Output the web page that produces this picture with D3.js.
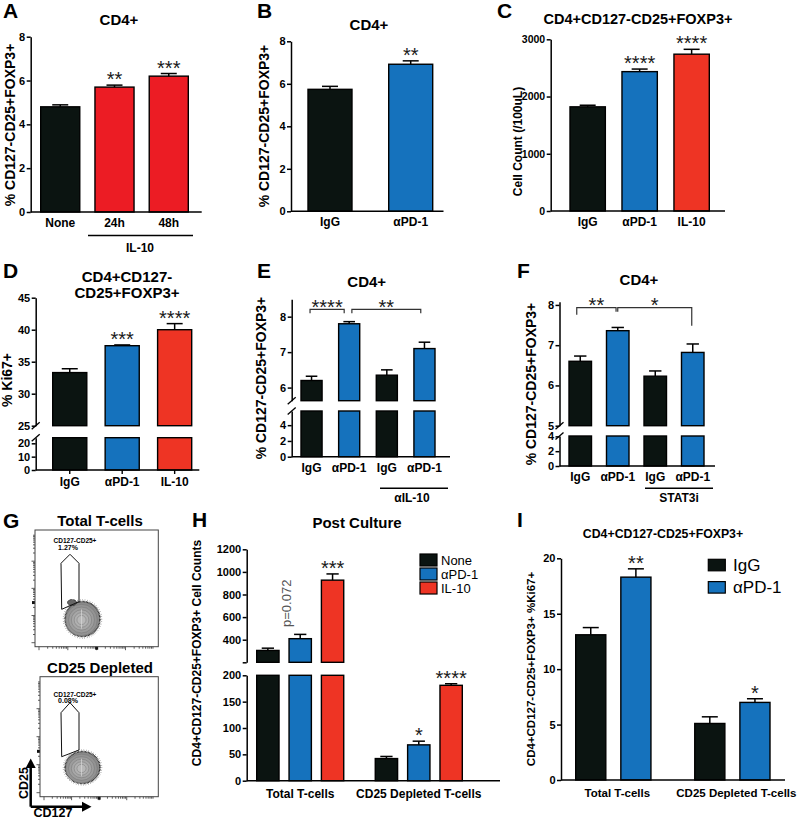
<!DOCTYPE html>
<html><head><meta charset="utf-8">
<script src="https://cdn.jsdelivr.net/npm/d3@7"></script>
<style>body{margin:0;background:#fff;overflow:hidden}svg{display:block}</style>
</head><body><script>
// ---------------- DATA ----------------
const aCats = ["None", "24h", "48h"];
const aVals = [4.8, 5.7, 6.2];
const aErrs = [0.09, 0.09, 0.12];
const aStars = ["", "**", "***"];
const aTicks = [0, 2, 4, 6, 8];

const bCats = ["IgG", "αPD-1"];
const bVals = [5.74, 6.92];
const bErrs = [0.14, 0.16];
const bStars = ["", "**"];
const bTicks = [0, 2, 4, 6, 8];

const cCats = ["IgG", "αPD-1", "IL-10"];
const cVals = [1820, 2435, 2740];
const cErrs = [28, 45, 85];
const cStars = ["", "****", "****"];
const cTicks = [0, 1000, 2000, 3000];

const dCats = ["IgG", "αPD-1", "IL-10"];
const dVals = [33.3, 37.5, 40.0];
const dErrs = [0.6, 0.12, 0.95];
const dStars = ["", "***", "****"];
const dTicksLow = [0, 10, 20];
const dTicksHigh = [25, 30, 35, 40, 45];

const eCats = ["IgG", "αPD-1", "IgG", "αPD-1"];
const eVals = [6.2, 7.8, 6.35, 7.1];
const eErrs = [0.12, 0.06, 0.15, 0.18];
const eTicksLow = [0, 2, 4];
const eTicksHigh = [6, 7, 8];
const eBrackets = [{ from: 0, to: 1, label: "****" }, { from: 1, to: 3, label: "**" }];

const fCats = ["IgG", "αPD-1", "IgG", "αPD-1"];
const fVals = [6.6, 7.36, 6.23, 6.82];
const fErrs = [0.13, 0.08, 0.13, 0.21];
const fTicksLow = [0, 2, 4];
const fTicksHigh = [5, 6, 7, 8];
const fBrackets = [{ from: 0, to: 1, label: "**" }, { from: 1, to: 3, label: "*" }];

const gPlots = [
  { title: "Total T-cells", gate: "CD127-CD25+", pct: "1.27%" },
  { title: "CD25 Depleted", gate: "CD127-CD25+", pct: "0.08%" }
];

const hGroups = ["Total T-cells", "CD25 Depleted T-cells"];
const hSeries = ["None", "αPD-1", "IL-10"];
const hNone = [305, 42];
const hPD1 = [409, 68];
const hIL10 = [927, 181];
const hNoneErr = [20, 4];
const hPD1Err = [38, 7];
const hIL10Err = [55, 3];
const hStars = [["", "", "***"], ["", "*", "****"]];
const hTicksLow = [0, 50, 100, 150, 200];
const hTicksHigh = [200, 400, 600, 800, 1000, 1200];

const iGroups = ["Total T-cells", "CD25 Depleted T-cells"];
const iSeries = ["IgG", "αPD-1"];
const iIgG = [13.1, 5.1];
const iPD1 = [18.3, 7.0];
const iIgGErr = [0.65, 0.6];
const iPD1Err = [0.75, 0.33];
const iStars = [["", "**"], ["", "*"]];
const iTicks = [0, 5, 10, 15, 20];

// ---------------- STYLE ----------------
const FONT = '"Liberation Sans", Arial, Helvetica, sans-serif';
const BLACK = "#0b1411", BLUE = "#1572bd", RED_A = "#ec1c24", RED = "#ee3424";

const svg = d3.select("body").append("svg")
  .attr("width", 800).attr("height", 820)
  .style("font-family", FONT);

function txt(x, y, s, o = {}) {
  const t = svg.append("text").attr("x", x).attr("y", y).text(s)
    .attr("font-size", o.size || 12)
    .attr("font-weight", o.weight || "bold")
    .attr("text-anchor", o.anchor || "middle")
    .attr("fill", o.fill || "#000");
  if (o.rotate) t.attr("transform", `rotate(-90,${x},${y})`);
  return t;
}
function line(x1, y1, x2, y2, w = 1.5, c = "#000") {
  return svg.append("line").attr("x1", x1).attr("y1", y1).attr("x2", x2).attr("y2", y2)
    .attr("stroke", c).attr("stroke-width", w);
}

// Generic bar panel (supports broken y axis)
function panel(cfg) {
  const g = svg.append("g");
  const segs = cfg.segs.map(s => Object.assign({}, s, { scale: d3.scaleLinear().domain(s.domain).range(s.range) }));
  const baseY = segs[0].range[0];
  cfg.bars.forEach(b => {
    segs.forEach(s => {
      const lo = s.domain[0], hi = s.domain[1];
      if (b.v <= lo) return;
      const yTop = s.scale(Math.min(b.v, hi)), yBot = s.scale(lo);
      g.append("rect").attr("x", b.x).attr("y", yTop).attr("width", b.w).attr("height", yBot - yTop)
        .attr("fill", b.color).attr("stroke", "#000").attr("stroke-width", 1.4);
    });
    const s = segs.find(s => b.v > s.domain[0] && b.v <= s.domain[1]) || segs[segs.length - 1];
    const yv = s.scale(b.v), ye = s.scale(b.v + b.e);
    const cx = b.x + b.w / 2, cw = Math.min(16, b.w * 0.55);
    g.append("line").attr("x1", cx).attr("x2", cx).attr("y1", yv).attr("y2", ye).attr("stroke", "#000").attr("stroke-width", 1.5);
    g.append("line").attr("x1", cx - cw / 2).attr("x2", cx + cw / 2).attr("y1", ye).attr("y2", ye).attr("stroke", "#000").attr("stroke-width", 1.5);
    if (b.star) txt(cx, ye + 1, b.star, { size: 20, weight: "normal", fill: "#1a1a1a" });
    if (cfg.xTicks) g.append("line").attr("x1", cx).attr("x2", cx).attr("y1", baseY).attr("y2", baseY + 4).attr("stroke", "#000").attr("stroke-width", 1.4);
    if (b.label) txt(cx, baseY + (cfg.labelDy || 14.5), b.label, { size: cfg.labelSize || 12 });
  });
  segs.forEach(s => {
    const ax = d3.axisLeft(s.scale).tickValues(s.ticks).tickSize(4).tickSizeOuter(0).tickPadding(1.5)
      .tickFormat(d => (s.hide || []).includes(d) ? "" : String(d));
    const ag = g.append("g").attr("transform", `translate(${cfg.axisX},0)`).call(ax)
      .attr("font-family", FONT).attr("font-size", cfg.tickSize || 11).attr("font-weight", "bold");
    ag.select(".domain").attr("stroke", "#000").attr("stroke-width", 1.5);
    ag.selectAll(".tick line").attr("stroke", "#000").attr("stroke-width", 1.5);
    ag.selectAll(".tick text").attr("fill", "#000");
  });
  if (cfg.breakMarks && segs.length > 1) {
    [segs[1].range[0], segs[0].range[1]].forEach(y => {
      g.append("line").attr("x1", cfg.axisX - 4).attr("y1", y + 3.5).attr("x2", cfg.axisX + 4).attr("y2", y - 3.5)
        .attr("stroke", "#000").attr("stroke-width", 1.3);
    });
  }
  g.append("line").attr("x1", cfg.axisX).attr("x2", cfg.axisEnd).attr("y1", baseY).attr("y2", baseY)
    .attr("stroke", "#000").attr("stroke-width", 1.5);
  return segs;
}

function simpleBars(cats, vals, errs, colors, stars, band) {
  return vals.map((v, i) => ({ x: band(i), w: band.bandwidth(), v, e: errs[i], color: colors[i], star: stars ? stars[i] : "", label: cats[i] }));
}

function brackets(list, band, y, geo) {
  list.forEach((br, k) => {
    const c1 = band(br.from) + band.bandwidth() / 2, c2 = band(br.to) + band.bandwidth() / 2;
    const x1 = c1 + geo[k].d1, x2 = c2 + geo[k].d2;
    svg.append("path").attr("d", `M${x1},${y + geo[k].l1}V${y}H${x2}V${y + geo[k].l2}`)
      .attr("fill", "none").attr("stroke", "#333").attr("stroke-width", 1.2);
    txt((x1 + x2) / 2, y + 4.6, br.label, { size: 20, weight: "normal", fill: "#1a1a1a" });
  });
}

// ---------------- PANEL A ----------------
{
  const band = d3.scaleBand().domain(d3.range(aCats.length)).range([40.7, 188.3]).paddingInner(0.28);
  panel({
    segs: [{ domain: [0, 8], range: [212, 36.7], ticks: aTicks }],
    bars: simpleBars(aCats, aVals, aErrs, [BLACK, RED_A, RED_A], aStars, band),
    axisX: 30.7, axisEnd: 201.7, xTicks: false
  });
  txt(119, 24.5, "CD4+", { size: 15 });
  txt(14.5, 125, "% CD127-CD25+FOXP3+", { size: 14, rotate: true });
  line(88, 235.5, 193, 235.5, 1.4);
  txt(140, 252, "IL-10", { size: 12 });
  txt(3, 18, "A", { size: 21, anchor: "start" });
}
// ---------------- PANEL B ----------------
{
  const band = d3.scaleBand().domain(d3.range(bCats.length)).range([308, 432.7]).paddingInner(0.455);
  panel({
    segs: [{ domain: [0, 8], range: [211.3, 41.3], ticks: bTicks }],
    bars: simpleBars(bCats, bVals, bErrs, [BLACK, BLUE], bStars, band),
    axisX: 291, axisEnd: 443.5
  });
  txt(369, 29.5, "CD4+", { size: 15 });
  txt(269, 126, "% CD127-CD25+FOXP3+", { size: 14, rotate: true });
  txt(257, 18, "B", { size: 21, anchor: "start" });
}
// ---------------- PANEL C ----------------
{
  const band = d3.scaleBand().domain(d3.range(cCats.length)).range([570, 709.3]).paddingInner(0.32);
  panel({
    segs: [{ domain: [0, 3000], range: [211, 39.3], ticks: cTicks }],
    bars: simpleBars(cCats, cVals, cErrs, [BLACK, BLUE, RED], cStars, band),
    axisX: 550.7, axisEnd: 725, tickSize: 10.5
  });
  txt(638, 23.5, "CD4+CD127-CD25+FOXP3+", { size: 14.5 });
  txt(521.5, 141.5, "Cell Count (/100uL)", { size: 12, rotate: true });
  txt(497, 18, "C", { size: 21, anchor: "start" });
}
// ---------------- PANEL D ----------------
{
  const band = d3.scaleBand().domain(d3.range(dCats.length)).range([52.7, 191.7]).paddingInner(0.35);
  panel({
    segs: [
      { domain: [0, 24.2], range: [470, 437.7], ticks: dTicksLow },
      { domain: [25, 45], range: [425.7, 297.7], ticks: dTicksHigh }
    ],
    bars: simpleBars(dCats, dVals, dErrs, [BLACK, BLUE, RED], dStars, band),
    axisX: 35.7, axisEnd: 199.3, breakMarks: true, xTicks: true, labelDy: 15.5
  });
  txt(127, 281.5, "CD4+CD127-", { size: 15 });
  txt(127, 298, "CD25+FOXP3+", { size: 15 });
  txt(11.7, 380, "% Ki67+", { size: 14, rotate: true });
  txt(3, 278, "D", { size: 21, anchor: "start" });
}
// ---------------- PANEL E ----------------
{
  const band = d3.scaleBand().domain(d3.range(eCats.length)).range([301, 435]).paddingInner(0.44);
  panel({
    segs: [
      { domain: [0, 5.8], range: [456.7, 411], ticks: eTicksLow },
      { domain: [5.63, 8.49], range: [400.7, 299.3], ticks: eTicksHigh }
    ],
    bars: simpleBars(eCats, eVals, eErrs, [BLACK, BLUE, BLACK, BLUE], null, band),
    axisX: 291.7, axisEnd: 450, breakMarks: true, labelDy: 15
  });
  brackets(eBrackets, band, 309.3, [{ d1: -1.5, d2: -5, l1: 4, l2: 4 }, { d1: 2.7, d2: -3.7, l1: 4, l2: 4 }]);
  txt(366.7, 287, "CD4+", { size: 15 });
  txt(266, 378, "% CD127-CD25+FOXP3+", { size: 14, rotate: true });
  line(380, 488.3, 448, 488.3, 1.4);
  txt(412, 502, "αIL-10", { size: 12 });
  txt(257, 278, "E", { size: 21, anchor: "start" });
}
// ---------------- PANEL F ----------------
{
  const band = d3.scaleBand().domain(d3.range(fCats.length)).range([569, 704]).paddingInner(0.4);
  panel({
    segs: [
      { domain: [0, 4.05], range: [466, 436], ticks: fTicksLow },
      { domain: [5, 8.08], range: [425.7, 301.7], ticks: fTicksHigh }
    ],
    bars: simpleBars(fCats, fVals, fErrs, [BLACK, BLUE, BLACK, BLUE], null, band),
    axisX: 559.5, axisEnd: 715, breakMarks: true, labelDy: 15
  });
  brackets(fBrackets, band, 307.7, [{ d1: -3.5, d2: -1.7, l1: 7, l2: 4 }, { d1: 0, d2: -1, l1: 4, l2: 18 }]);
  txt(639, 285, "CD4+", { size: 15 });
  txt(536, 384, "% CD127-CD25+FOXP3+", { size: 14, rotate: true });
  line(645, 488.3, 713, 488.3, 1.4);
  txt(679, 502, "STAT3i", { size: 12 });
  txt(517, 278, "F", { size: 21, anchor: "start" });
}
// ---------------- PANEL G (flow plots) ----------------
{
  const boxes = [
    { x0: 35, y0: 530, x1: 158.3, y1: 646.7, gate: [[61, 563.3], [70, 554.3], [79, 563.3], [79, 601.7], [61.7, 609.3]], blob: [82.5, 619, 17.5, 17.5], clump: true, t1: 543.3, t2: 550, title: 526 },
    { x0: 40, y0: 676.7, x1: 158.3, y1: 796.7, gate: [[61, 712.7], [70, 702.7], [79, 712.7], [79, 750], [61.7, 756.7]], blob: [82.5, 767.5, 17.5, 16], clump: false, t1: 696.7, t2: 702.7, title: 673 }
  ];
  const contourShades = ["#939393", "#9d9d9d", "#a7a7a7", "#b0b0b0", "#b8b8b8"];
  gPlots.forEach((p, i) => {
    const b = boxes[i];
    txt(100, b.title, p.title, { size: 15 });
    const ly = d3.scaleLog().domain([10, 1e5]).range([b.y1 - 4, b.y0 + 4]);
    const lx = d3.scaleLog().domain([10, 1e5]).range([b.x0 + 4, b.x1 - 4]);
    for (let k = 1; k <= 4; k++) for (let m = 1; m <= 9; m++) {
      const v = m * Math.pow(10, k);
      const len = m === 1 ? 3.5 : 2;
      line(b.x0 - len, ly(v), b.x0, ly(v), 0.8, "#333");
      line(lx(v), b.y1, lx(v), b.y1 + len, 0.8, "#333");
    }
    svg.append("rect").attr("x", b.x0 - 3).attr("y", ly(300) - 1.5).attr("width", 3).attr("height", 3).attr("fill", "#111");
    svg.append("rect").attr("x", lx(1000) - 1.5).attr("y", b.y1).attr("width", 3).attr("height", 3).attr("fill", "#111");
    svg.append("rect").attr("x", b.x0).attr("y", b.y0).attr("width", b.x1 - b.x0).attr("height", b.y1 - b.y0)
      .attr("fill", "none").attr("stroke", "#444").attr("stroke-width", 1);
    const [cx, cy, rx, ry] = b.blob;
    svg.append("ellipse").attr("cx", cx).attr("cy", cy).attr("rx", rx * 1.1).attr("ry", ry * 1.1)
      .attr("fill", "none").attr("stroke", "#444").attr("stroke-width", 0.9).attr("stroke-dasharray", "0.5 2");
    svg.append("ellipse").attr("cx", cx).attr("cy", cy).attr("rx", rx).attr("ry", ry)
      .attr("fill", "#8a8a8a").attr("stroke", "#111").attr("stroke-width", 1.6).attr("stroke-dasharray", "0.7 0.7");
    contourShades.forEach((c, k) => {
      const f = 0.9 - k * 0.16;
      svg.append("ellipse").attr("cx", cx - 1).attr("cy", cy + 1).attr("rx", rx * f).attr("ry", ry * f)
        .attr("fill", c).attr("stroke", "#6a6a6a").attr("stroke-width", 0.4);
    });
    line(cx - 1, cy - ry * 0.55, cx - 1, cy + ry * 0.55, 0.7, "#d8d8d8");
    if (b.clump) {
      svg.append("ellipse").attr("cx", 72).attr("cy", 602.5).attr("rx", 4.5).attr("ry", 3)
        .attr("fill", "#666").attr("stroke", "#111").attr("stroke-width", 1).attr("stroke-dasharray", "0.7 0.7");
    }
    svg.append("polygon").attr("points", b.gate.map(d => d.join(",")).join(" "))
      .attr("fill", "none").attr("stroke", "#111").attr("stroke-width", 1);
    txt(75, b.t1, p.gate, { size: 6.5 });
    txt(68, b.t2, p.pct, { size: 7 });
  });
  line(30.7, 806.7, 30.7, 768, 2.5);
  svg.append("polygon").attr("points", "25.7,768 35.7,768 30.7,758.5").attr("fill", "#000");
  line(30.7, 806.7, 82, 806.7, 2.5);
  svg.append("polygon").attr("points", "82,801.7 82,811.7 91.5,806.7").attr("fill", "#000");
  txt(27.5, 783, "CD25", { size: 12.5, rotate: true });
  txt(53, 816.5, "CD127", { size: 12.5 });
  txt(3, 528, "G", { size: 21, anchor: "start" });
}
// ---------------- PANEL H ----------------
{
  const gb = d3.scaleBand().domain(d3.range(hGroups.length)).range([256.7, 462.3]).paddingInner(0.266);
  const ib = d3.scaleBand().domain(d3.range(hSeries.length)).range([0, gb.bandwidth()]).paddingInner(0.31);
  const cols = [BLACK, BLUE, RED];
  const vals = [hNone, hPD1, hIL10], errs = [hNoneErr, hPD1Err, hIL10Err];
  const bars = [];
  hGroups.forEach((gname, gi) => hSeries.forEach((s, si) => {
    bars.push({ x: gb(gi) + ib(si), w: ib.bandwidth(), v: vals[si][gi], e: errs[si][gi], color: cols[si], star: hStars[gi][si] });
  }));
  panel({
    segs: [
      { domain: [0, 200], range: [780.7, 675.3], ticks: hTicksLow },
      { domain: [200, 1200], range: [662.3, 549.3], ticks: hTicksHigh, hide: [200] }
    ],
    bars, axisX: 246.7, axisEnd: 500
  });
  hGroups.forEach((gname, gi) => txt(gb(gi) + gb.bandwidth() / 2, 797.5, gname, { size: 12 }));
  const pb = bars[1];
  txt(pb.x + pb.w / 2 - 9.5, 603.3, "p=0.072", { size: 13, weight: "normal", fill: "#555", rotate: true });
  hSeries.forEach((s, si) => {
    svg.append("rect").attr("x", 420).attr("y", 554 + si * 14).attr("width", 17).attr("height", 12)
      .attr("fill", cols[si]).attr("stroke", "#000").attr("stroke-width", 1.2);
    txt(441, 560 + si * 14 + 4.7, s, { size: 13, weight: "normal", anchor: "start" });
  });
  txt(357, 528, "Post Culture", { size: 15 });
  txt(201, 653, "CD4+CD127-CD25+FOXP3+ Cell Counts", { size: 12, rotate: true });
  txt(192, 527, "H", { size: 21, anchor: "start" });
}
// ---------------- PANEL I ----------------
{
  const gb = d3.scaleBand().domain(d3.range(iGroups.length)).range([575.7, 770]).paddingInner(0.368);
  const ib = d3.scaleBand().domain(d3.range(iSeries.length)).range([0, gb.bandwidth()]).paddingInner(0.333);
  const cols = [BLACK, BLUE];
  const vals = [iIgG, iPD1], errs = [iIgGErr, iPD1Err];
  const bars = [];
  iGroups.forEach((gname, gi) => iSeries.forEach((s, si) => {
    bars.push({ x: gb(gi) + ib(si), w: ib.bandwidth(), v: vals[si][gi], e: errs[si][gi], color: cols[si], star: iStars[gi][si] });
  }));
  panel({
    segs: [{ domain: [0, 20], range: [780, 558.3], ticks: iTicks }],
    bars, axisX: 561, axisEnd: 785
  });
  iGroups.forEach((gname, gi) => txt(gb(gi) + gb.bandwidth() / 2 + 4, 797, gname, { size: 11.5 }));
  iSeries.forEach((s, si) => {
    svg.append("rect").attr("x", 708.3).attr("y", 559.3 + si * 22.3).attr("width", 17).attr("height", 11.5)
      .attr("fill", cols[si]).attr("stroke", "#000").attr("stroke-width", 1.2);
    txt(733, 565 + si * 22.3 + 6, s, { size: 17, weight: "normal", anchor: "start" });
  });
  txt(663, 538, "CD4+CD127-CD25+FOXP3+", { size: 12.3 });
  txt(535, 669, "CD4+CD127-CD25+FOXP3+ %Ki67+", { size: 11.5, rotate: true });
  txt(517, 527, "I", { size: 21, anchor: "start" });
}
</script></body></html>
